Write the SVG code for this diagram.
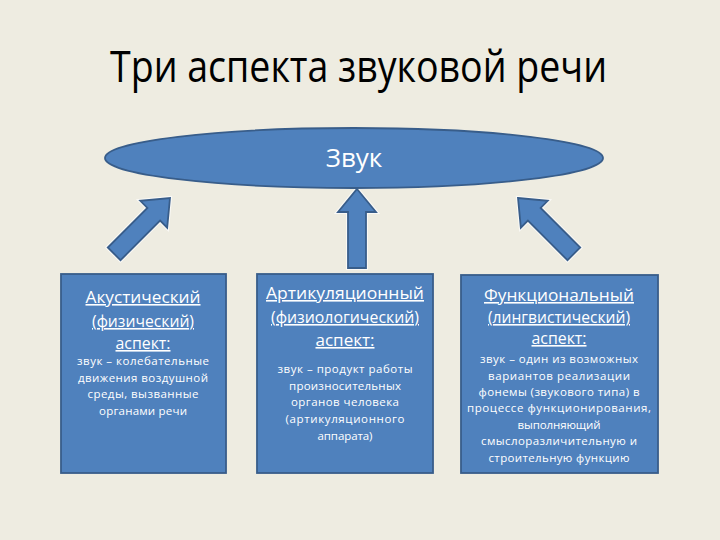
<svg xmlns="http://www.w3.org/2000/svg" width="720" height="540" viewBox="0 0 720 540">
<defs>
<style>
.bg{fill:#EEECE1}
.shape{fill:#4F81BD;stroke:#385D8A;stroke-width:1.8}
.halo{fill:none;stroke:#FFFFFF;stroke-width:4;stroke-opacity:0.7}
.title{font-family:"Open Sans","Liberation Sans",sans-serif;font-size:44px;fill:#000000}
.lbl{font-family:"Open Sans","Liberation Sans",sans-serif;fill:#FFFFFF;text-anchor:middle}
.h{font-size:16px;text-decoration:underline}
.b{font-size:11.5px}
.big{font-size:26px}
</style>
<path id="arr" d="M0,0 L19,23 L9,23 L9,79 L-9,79 L-9,23 L-19,23 Z"/>
</defs>
<rect class="bg" x="0" y="0" width="720" height="540"/>
<text class="title" x="110" y="82" textLength="497" lengthAdjust="spacingAndGlyphs">Три аспекта звуковой речи</text>

<g id="connectors">
<use href="#arr" class="halo" transform="translate(170,198) rotate(45)"/>
<use href="#arr" class="shape" transform="translate(170,198) rotate(45)"/>
<use href="#arr" class="halo" transform="translate(357,189)"/>
<use href="#arr" class="shape" transform="translate(357,189)"/>
<use href="#arr" class="halo" transform="translate(518,198) rotate(-45)"/>
<use href="#arr" class="shape" transform="translate(518,198) rotate(-45)"/>
</g>

<g id="sound">
<ellipse class="shape" cx="354" cy="158" rx="249" ry="30"/>
<text class="lbl big" x="354" y="167">Звук</text>
</g>

<g id="acoustic">
<rect class="shape" x="61" y="274" width="165" height="199"/>
<text class="lbl h" x="143" y="303" textLength="115" lengthAdjust="spacingAndGlyphs">Акустический</text>
<text class="lbl h" x="143" y="327" textLength="102" lengthAdjust="spacingAndGlyphs">(физический)</text>
<text class="lbl h" x="143" y="349" textLength="55" lengthAdjust="spacingAndGlyphs">аспект:</text>
<text class="lbl b" x="143" y="365" textLength="132">звук – колебательные</text>
<text class="lbl b" x="143" y="382" textLength="130">движения воздушной</text>
<text class="lbl b" x="143" y="398" textLength="111">среды, вызванные</text>
<text class="lbl b" x="143" y="415" textLength="88">органами речи</text>
</g>

<g id="articulatory">
<rect class="shape" x="257" y="274" width="176" height="199"/>
<text class="lbl h" x="345" y="299" textLength="158" lengthAdjust="spacingAndGlyphs">Артикуляционный</text>
<text class="lbl h" x="345" y="323" textLength="148" lengthAdjust="spacingAndGlyphs">(физиологический)</text>
<text class="lbl h" x="345" y="346" textLength="59" lengthAdjust="spacingAndGlyphs">аспект:</text>
<text class="lbl b" x="345" y="373" textLength="135">звук – продукт работы</text>
<text class="lbl b" x="345" y="390" textLength="112">произносительных</text>
<text class="lbl b" x="345" y="406" textLength="108">органов человека</text>
<text class="lbl b" x="345" y="423" textLength="119">(артикуляционного</text>
<text class="lbl b" x="345" y="440" textLength="55">аппарата)</text>
</g>

<g id="functional">
<rect class="shape" x="461" y="275" width="197" height="198"/>
<text class="lbl h" x="559" y="301" textLength="150" lengthAdjust="spacingAndGlyphs">Функциональный</text>
<text class="lbl h" x="559" y="323" textLength="142" lengthAdjust="spacingAndGlyphs">(лингвистический)</text>
<text class="lbl h" x="559" y="344" textLength="55" lengthAdjust="spacingAndGlyphs">аспект:</text>
<text class="lbl b" x="559" y="363" textLength="158">звук – один из возможных</text>
<text class="lbl b" x="559" y="380" textLength="142">вариантов реализации</text>
<text class="lbl b" x="559" y="396" textLength="161">фонемы (звукового типа) в</text>
<text class="lbl b" x="559" y="412" textLength="184">процессе функционирования,</text>
<text class="lbl b" x="559" y="429" textLength="83">выполняющий</text>
<text class="lbl b" x="559" y="445" textLength="156">смыслоразличительную и</text>
<text class="lbl b" x="559" y="462" textLength="141">строительную функцию</text>
</g>
</svg>
